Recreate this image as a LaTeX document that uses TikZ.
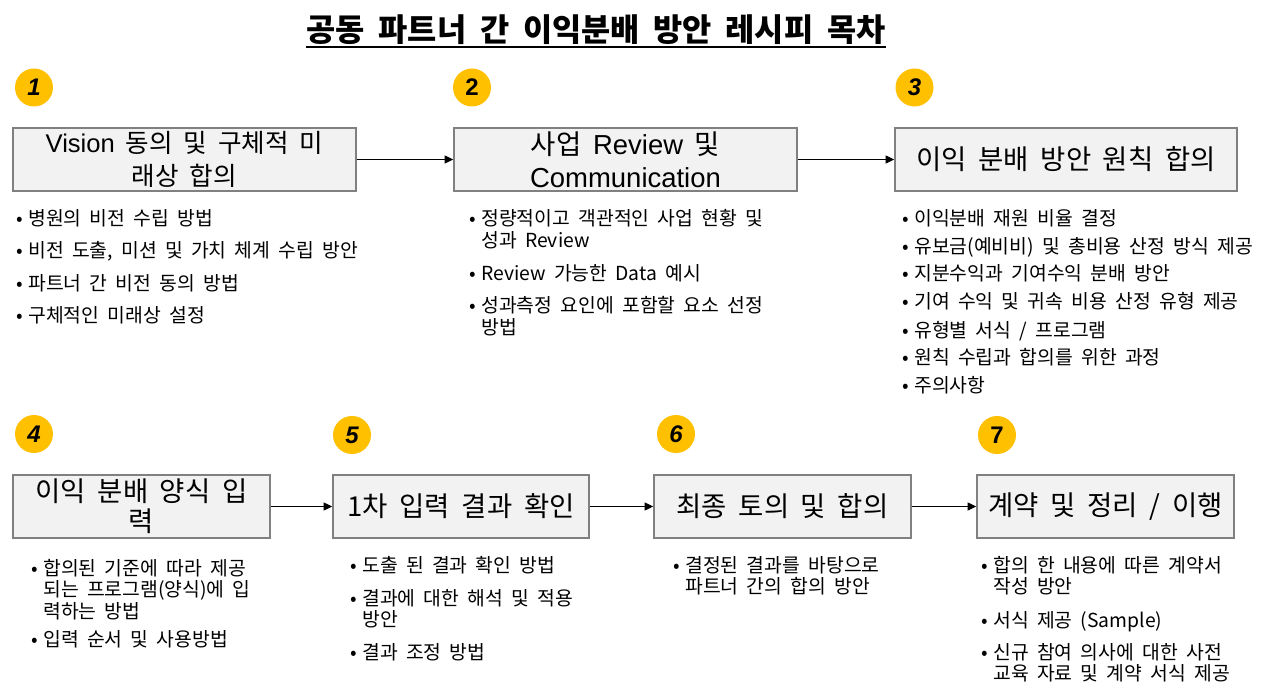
\documentclass[tikz,border=0pt]{standalone}
\usepackage{fontspec}
\setmainfont[WordSpace=1.9]{Noto Sans CJK KR}
\newfontfamily\arialf{Liberation Sans}
\usetikzlibrary{arrows.meta}
\definecolor{boxfill}{HTML}{F2F2F2}
\definecolor{boxline}{HTML}{808080}
\definecolor{numfill}{HTML}{FFC000}
\newcommand{\itm}[1]{\parbox[t]{330pt}{\raggedright\parindent=0pt\hangindent=9pt\hangafter=1\noindent\makebox[9pt][l]{•}#1}}
\newcommand{\la}[1]{{\arialf #1}}
\tikzset{
  stepbox/.style={draw=boxline, fill=boxfill, line width=1.1pt, inner sep=0pt, align=center,
    minimum height=47.25pt, font=\fontsize{20.6}{24.5}\selectfont},
  numdot/.style={circle, fill=numfill, minimum size=28.5pt, inner sep=0pt,
    font=\arialf\bfseries\fontsize{18}{18}\selectfont},
  item/.style={anchor=base west, inner sep=0pt, font=\fontsize{14.5}{16.4}\selectfont},
  arr/.style={line width=0.9pt, -{Triangle[length=6.5pt,width=6pt]}},
}
\begin{document}
\begin{tikzpicture}[x=0.75pt,y=-0.75pt]
\path[use as bounding box] (0,0) rectangle (1280,698);
% title
\node[anchor=base, inner sep=0pt, font=\bfseries\fontsize{23.8}{24}\selectfont] (title) at (596,42)
  {공동 파트너 간 이익분배 방안 레시피 목차};
\draw[line width=1.5pt] ([yshift=-3.6pt]title.base west) -- ([yshift=-3.6pt]title.base east);
% number circles
\node[numdot] (c1) at (34,87.5) {\itshape 1};
\node[numdot] (c2) at (472,87.5) {2};
\node[numdot] (c3) at (914.5,87.5) {\itshape 3};
\node[numdot] (c4) at (34,434) {\itshape 4};
\node[numdot] (c5) at (352,435) {\itshape 5};
\node[numdot] (c6) at (676,434) {\itshape 6};
\node[numdot] (c7) at (997,435) {7};
% boxes
\node[stepbox, minimum width=257.25pt, font=\fontsize{19.2}{24.5}\selectfont] (b1) at (184.5,159.5) {\la{Vision} 동의 및 구체적 미\\래상 합의};
\node[stepbox, minimum width=257.25pt] (b2) at (625.5,159.5) {사업 \la{Review} 및\\\la{Communication}};
\node[stepbox, minimum width=256.5pt] (b3) at (1066,159.5) {이익 분배 방안 원칙 합의};
\node[stepbox, minimum width=192.75pt, font=\fontsize{20.6}{22.5}\selectfont] (b4) at (141.5,506.5) {이익 분배 양식 입\\력};
\node[stepbox, minimum width=192pt] (b5) at (461,506.5) {1차 입력 결과 확인};
\node[stepbox, minimum width=192.75pt] (b6) at (782.5,506.5) {최종 토의 및 합의};
\node[stepbox, minimum width=192.75pt] (b7) at (1105.5,506.5) {계약 및 정리 / 이행};
% arrows
\draw[arr] (b1) -- (b2);
\draw[arr] (b2) -- (b3);
\draw[arr] (b4) -- (b5);
\draw[arr] (b5) -- (b6);
\draw[arr] (b6) -- (b7);
% list 1
\node[item] (l1a) at (16,226) {\itm{병원의 비전 수립 방법}};
\node[item] (l1b) at (16,258) {\itm{비전 도출, 미션 및 가치 체계 수립 방안}};
\node[item] (l1c) at (16,291) {\itm{파트너 간 비전 동의 방법}};
\node[item] (l1d) at (16,323) {\itm{구체적인 미래상 설정}};
% list 2
\node[item] (l2a) at (469,226) {\itm{정량적이고 객관적인 사업 현황 및\newline 성과 Review}};
\node[item] (l2b) at (469,281) {\itm{Review 가능한 Data 예시}};
\node[item] (l2c) at (469,313) {\itm{성과측정 요인에 포함할 요소 선정\newline 방법}};
% list 3
\node[item] (l3a) at (902,226) {\itm{이익분배 재원 비율 결정}};
\node[item] (l3b) at (902,253.5) {\itm{유보금(예비비) 및 총비용 산정 방식 제공}};
\node[item] (l3c) at (902,281) {\itm{지분수익과 기여수익 분배 방안}};
\node[item] (l3d) at (902,309) {\itm{기여 수익 및 귀속 비용 산정 유형 제공}};
\node[item] (l3e) at (902,337) {\itm{유형별 서식 / 프로그램}};
\node[item] (l3f) at (902,364) {\itm{원칙 수립과 합의를 위한 과정}};
\node[item] (l3g) at (902,392) {\itm{주의사항}};
% list 4
\node[item] (l4a) at (31,575) {\itm{합의된 기준에 따라 제공\newline 되는 프로그램(양식)에 입\newline 력하는 방법}};
\node[item] (l4b) at (31,646) {\itm{입력 순서 및 사용방법}};
% list 5
\node[item] (l5a) at (350,572) {\itm{도출 된 결과 확인 방법}};
\node[item] (l5b) at (350,605) {\itm{결과에 대한 해석 및 적용\newline 방안}};
\node[item] (l5c) at (350,659) {\itm{결과 조정 방법}};
% list 6
\node[item] (l6a) at (673,572) {\itm{결정된 결과를 바탕으로\newline 파트너 간의 합의 방안}};
% list 7
\node[item] (l7a) at (981,572) {\itm{합의 한 내용에 따른 계약서\newline 작성 방안}};
\node[item] (l7b) at (981,627) {\itm{서식 제공 (Sample)}};
\node[item] (l7c) at (981,659) {\itm{신규 참여 의사에 대한 사전\newline 교육 자료 및 계약 서식 제공}};
\end{tikzpicture}
\end{document}
